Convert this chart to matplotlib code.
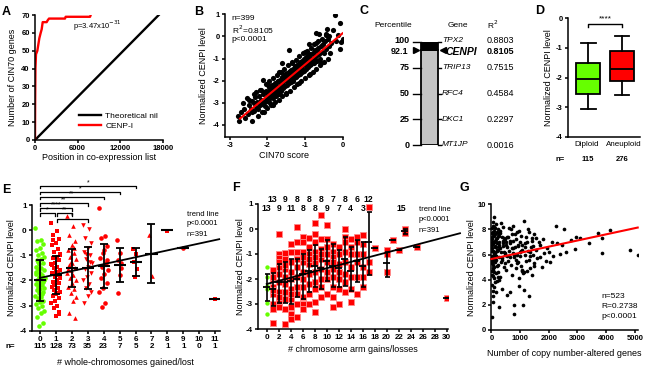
import matplotlib
matplotlib.use("Agg")
import matplotlib.pyplot as plt
import matplotlib.transforms as mtransforms
import numpy as np

W, H = 650, 373
GREEN = "#66ff00"
RED = "#ff0000"

# ---- A: co-expression ranking
a_pos = [0, 20, 60, 140, 330, 610, 800, 940, 1080, 1640, 1780, 1970, 4220, 4310, 7740, 7830]
a_count = [0, 20, 40, 48, 50, 57, 60, 62, 66, 66, 67, 68, 68, 69, 69, 70]
a_nil_pos = [0, 17400]
a_nil_count = [0, 70]

# ---- B: CENPI vs CIN70 score
b_x = [-2.78, -2.75, -2.70, -2.62, -2.60, -2.55, -2.52, -2.48, -2.45, -2.42,
       -2.40, -2.37, -2.35, -2.32, -2.30, -2.28, -2.25, -2.22, -2.20, -2.18,
       -2.16, -2.15, -2.13, -2.10, -2.08, -2.06, -2.05, -2.03, -2.00, -1.98,
       -1.97, -1.95, -1.93, -1.92, -1.90, -1.88, -1.86, -1.85, -1.83, -1.82,
       -1.80, -1.78, -1.77, -1.75, -1.73, -1.72, -1.70, -1.68, -1.67, -1.65,
       -1.63, -1.62, -1.60, -1.58, -1.57, -1.55, -1.53, -1.52, -1.50, -1.48,
       -1.47, -1.45, -1.43, -1.42, -1.40, -1.38, -1.37, -1.35, -1.33, -1.32,
       -1.30, -1.28, -1.27, -1.25, -1.23, -1.22, -1.20, -1.18, -1.17, -1.15,
       -1.13, -1.12, -1.10, -1.08, -1.07, -1.05, -1.03, -1.02, -1.00, -0.98,
       -0.97, -0.95, -0.93, -0.92, -0.90, -0.88, -0.86, -0.85, -0.83, -0.80,
       -0.78, -0.76, -0.73, -0.70, -0.68, -0.65, -0.63, -0.60, -0.58, -0.55,
       -0.52, -0.50, -0.47, -0.45, -0.43, -0.40, -0.37, -0.35, -0.30, -0.25,
       -0.21, -0.18, -0.12, -0.08, -0.06, -0.03, 0.00, -0.71, -0.62, -1.43,
       -2.11, -0.90, -1.60,
       -2.02, -1.94, -1.87, -1.79, -1.74, -1.66, -1.59, -1.54, -1.46, -1.41,
       -1.36, -1.29, -1.24, -1.19, -1.14, -1.09, -1.04, -0.99, -0.94, -0.89,
       -0.84, -0.79, -0.74, -0.69, -1.71, -1.56, -1.39, -1.26, -1.11, -0.96,
       -2.50, -2.40, -2.30, -2.25, -2.20, -2.10, -2.05, -2.00, -1.95, -1.90,
       -1.85, -1.80, -1.75, -1.70, -1.65, -1.60, -1.55, -1.50, -1.45, -1.40,
       -1.35, -1.30, -1.25, -1.20, -1.15, -1.10, -1.05, -1.00, -0.95, -0.90,
       -0.85, -0.80, -0.75, -0.70, -0.65, -0.60, -0.55, -0.50, -0.45, -0.40,
       -2.65, -2.35, -2.15, -1.99, -1.84, -1.69, -1.51, -1.34, -1.16, -1.01,
       -0.87, -0.72, -0.57, -0.42, -0.33]
b_y = [-3.6, -3.8, -3.4, -3.3, -3.7, -2.8, -3.5, -3.1, -3.3, -2.9,
       -3.4, -3.0, -3.35, -2.75, -3.2, -2.95, -3.3, -2.7, -3.1, -2.85,
       -2.4, -3.05, -2.6, -2.95, -2.5, -3.15, -2.8, -2.45, -2.9, -2.6,
       -2.3, -2.75, -3.0, -2.4, -2.65, -2.2, -2.55, -2.8, -2.35, -2.6,
       -2.1, -2.45, -2.7, -2.25, -2.5, -2.0, -2.35, -2.6, -1.95, -2.2,
       -2.45, -1.85, -2.15, -2.35, -1.8, -2.0, -2.25, -1.7, -1.95, -2.2,
       -1.65, -1.9, -2.1, -1.6, -1.8, -2.05, -1.5, -1.75, -2.0, -1.45,
       -1.7, -1.9, -1.35, -1.6, -1.85, -1.3, -1.55, -1.75, -1.25, -1.45,
       -1.7, -1.15, -1.4, -1.6, -1.1, -1.3, -1.55, -1.0, -1.25, -1.45,
       -0.95, -1.15, -1.4, -0.85, -1.1, -1.3, -0.8, -1.05, -1.25, -0.75,
       -1.0, -1.2, -0.6, -0.9, -1.1, -0.5, -0.8, -1.0, -0.45, -0.7,
       -0.35, -0.75, -0.2, 0.1, -0.55, -0.1, -0.45, 0.0, -0.3, 0.3,
       0.97, -0.2, 0.05, 0.6, -0.55, -0.25, -0.1, 0.14, 0.12, -0.62,
       -1.97, -0.35, -1.2,
       -2.55, -2.8, -2.35, -2.2, -2.5, -2.05, -2.3, -1.85, -2.1, -1.7,
       -1.95, -1.5, -1.8, -1.35, -1.65, -1.2, -1.5, -1.05, -1.35, -0.95,
       -1.2, -0.8, -1.05, -0.65, -2.0, -1.75, -1.55, -1.4, -1.25, -1.3,
       -2.85, -3.8, -2.5, -3.6, -2.4, -3.4, -2.15, -3.25, -2.0, -3.1,
       -1.9, -2.95, -1.75, -2.85, -1.6, -2.7, -1.45, -2.55, -1.3, -2.45,
       -1.15, -2.3, -1.05, -2.15, -0.9, -2.0, -0.75, -1.9, -0.65, -1.75,
       -0.5, -1.6, -0.35, -1.45, -0.2, -1.3, -0.1, -1.15, 0.05, -1.0,
       -3.0, -2.6, -3.4, -2.2, -3.1, -1.6, -2.6, -1.2, -2.1, -0.7,
       -1.7, -0.3, -1.2, 0.35, -0.75]
b_fit_x = [-2.73, 0.0]
b_fit_y = [-3.71, 0.14]

# ---- C: percentile ranking of genes
c_genes = ["TPX2", "CENPI", "TRIP13", "RFC4", "DKC1", "MT1JP"]
c_pct = [100, 92.1, 75, 50, 25, 0]
c_r2 = ["0.8803", "0.8105", "0.7515", "0.4584", "0.2297", "0.0016"]
c_ticks = [100, 75, 50, 25, 0]
c_cenpi = 92.1

# ---- D: box plot
d_groups = ["Diploid", "Aneuploid"]
d_n = [115, 276]
d_lo = [-3.05, -2.60]
d_q1 = [-2.55, -2.13]
d_med = [-2.05, -1.70]
d_q3 = [-1.50, -1.12]
d_hi = [-0.85, -0.60]

# ---- E: whole-chromosome gains/losses
e0 = [0.1, -0.4, -0.45, -0.55, -0.7, -0.8, -0.9, -1.0, -1.05, -1.15, -1.2, -1.3, -1.35,
      -1.45, -1.5, -1.55, -1.6, -1.7, -1.75, -1.8, -1.85, -1.9, -1.95, -2.0, -2.05, -2.1,
      -2.15, -2.2, -2.25, -2.3, -2.35, -2.4, -2.45, -2.5, -2.6, -2.65, -2.7, -2.8, -2.85,
      -2.95, -3.0, -3.1, -3.2, -3.3, -3.45, -3.7, -3.8, -1.65, -2.55, -1.25, -2.0, -2.2]
e1 = [0.3, -0.05, -0.2, -0.35, -0.5, -0.6, -0.75, -0.85, -0.95, -1.05, -1.1, -1.2, -1.3,
      -1.35, -1.45, -1.5, -1.6, -1.65, -1.7, -1.8, -1.85, -1.9, -2.0, -2.05, -2.1, -2.2,
      -2.25, -2.3, -2.4, -2.45, -2.55, -2.6, -2.7, -2.8, -2.9, -3.0, -3.1, -3.25, -3.4,
      -1.4, -1.75, -2.15, -1.0, -2.5, -0.4, -3.35]
e2 = [0.55, 0.15, -0.2, -0.45, -0.6, -0.8, -0.9, -1.05, -1.15, -1.3, -1.4, -1.5, -1.6,
      -1.7, -1.8, -1.9, -2.0, -2.1, -2.25, -2.35, -2.5, -2.65, -2.8, -3.3, -3.5, -1.25,
      -1.55, -0.7]
e3 = [0.2, 0.05, -0.3, -0.5, -0.7, -0.85, -1.0, -1.15, -1.3, -1.45, -1.55, -1.7, -1.85,
      -2.0, -2.15, -2.3, -2.45, -2.6, -2.9, -1.25, -0.95]
e4 = [0.9, -0.25, -0.3, -0.65, -0.9, -1.1, -1.3, -1.45, -1.6, -1.75, -1.9, -2.1, -2.3,
      -2.45, -2.9, -3.05, -1.2, -0.8]
e5 = [-0.4, -0.9, -1.2, -1.5, -1.8, -2.5, -1.3]
e6 = [-0.75, -0.95, -1.25, -1.55, -1.85]
e7 = [-0.18, -1.82]
e8 = [-0.02]
e9 = [-0.72]
e11 = [-2.75]
e_x = [0, 1, 2, 3, 4, 5, 6, 7, 8, 9, 11]
e_mean = [-2.0, -1.8, -1.51, -1.51, -1.43, -1.4, -1.27, -0.93, 0.0, -0.71, -2.72]
e_sd = [0.8, 0.76, 0.75, 0.82, 0.87, 0.68, 0.55, 1.16, 0.0, 0.0, 0.0]
e_n = [115, 128, 73, 35, 23, 7, 5, 2, 1, 1, 0, 1]
e_pairs = [(0, 6, "*"), (0, 5, "*"), (0, 4, "**"), (0, 3, "**"), (0, 2, "****"),
           (0, 1, "*"), (1, 2, "**"), (1, 3, "*")]
e_trend_x = [0, 11.25]
e_trend_y = [-1.9, -0.36]

# ---- F: chromosome arm gains/losses
f_green = [-1.5, -1.9, -2.27, -2.4, -2.94, -3.38]
f_arm = [1, 2, 3, 4, 5, 6, 7, 8, 9, 10, 11, 12, 13, 14, 15, 16, 17, 18, 20, 21, 22, 23, 25, 30]
f_levels = [
    [-1.65, -2.0, -2.3, -2.6, -3.0, -3.2, -3.75, -2.45, -1.9],
    [-0.2, -1.0, -1.15, -1.5, -1.8, -2.1, -2.5, -2.9, -3.1, -2.7, -1.3],
    [-0.95, -1.2, -1.6, -1.9, -2.2, -2.5, -2.8, -3.2, -3.8, -1.45],
    [-0.6, -0.9, -1.3, -1.7, -2.0, -2.4, -2.8, -3.1, -3.4, -3.6, -2.6],
    [0.1, -0.5, -0.9, -1.2, -1.5, -1.9, -2.3, -2.6, -3.0, -3.5],
    [-0.3, -0.5, -0.9, -1.3, -1.7, -2.0, -2.3, -2.7, -3.0, -3.2, -1.1],
    [-0.35, -0.7, -1.0, -1.4, -1.8, -2.2, -2.6, -3.0, -1.2],
    [0.25, -0.2, -0.5, -0.9, -1.3, -1.7, -2.1, -2.4, -2.9, -3.3, -1.1],
    [0.55, -0.4, -0.8, -1.2, -1.6, -2.0, -2.3, -2.7, -1.0],
    [0.15, -0.4, -0.7, -1.0, -1.3, -1.7, -2.0, -2.6],
    [-0.9, -1.1, -1.3, -1.6, -1.9, -2.3, -3.1, -2.7, -0.6],
    [-0.7, -1.0, -1.4, -1.7, -2.0, -2.4, -3.0],
    [0.0, -0.3, -0.5, -0.9, -1.3, -1.8, -2.1, -2.5],
    [-0.7, -1.0, -1.5, -1.9, -2.4, -2.9, -0.4],
    [-0.3, -0.5, -1.0, -1.3, -1.9, -2.6],
    [-0.25, -0.6, -1.0, -1.5, -1.9, -2.3],
    [0.9, -1.3, -1.7],
    [-0.75],
    [-0.85, -1.0, -1.7],
    [-0.42],
    [-0.85],
    [0.0, -0.15],
    [-0.72],
    [-2.75],
]
f_stat_x = [0, 1, 2, 3, 4, 5, 6, 7, 8, 9, 10, 11, 12, 13, 14, 15, 16, 17, 18, 20, 21, 22, 23, 25, 30]
f_mean = [-2.33, -2.4, -2.13, -2.13, -2.06, -2.0, -1.79, -1.66, -1.46, -1.55, -1.28, -1.46, -1.55,
          -1.19, -1.66, -1.26, -1.46, -0.53, -0.76, -1.37, -0.42, -0.85, -0.08, -0.72, -2.75]
f_lo = [-2.87, -3.08, -2.94, -2.94, -3.0, -2.73, -2.8, -2.53, -2.33, -2.4, -2.06, -2.33, -2.33,
        -2.26, -2.47, -2.13, -2.33, -1.84, -0.76, -1.9, -0.42, -0.85, -0.18, -0.72, -2.75]
f_hi = [-1.8, -1.74, -1.39, -1.32, -1.19, -1.19, -0.99, -0.85, -0.65, -0.79, -0.45, -0.59, -0.85,
        -0.32, -0.72, -0.45, -0.52, 0.69, -0.76, -0.9, -0.42, -0.85, 0.02, -0.72, -2.75]
f_top_x = [1, 3, 5, 7, 9, 11, 13, 15, 17]
f_top_n = [13, 9, 8, 8, 8, 7, 8, 6, 12]
f_bot_x = [0, 2, 4, 6, 8, 10, 12, 14, 16]
f_bot_n = [13, 9, 11, 8, 8, 9, 7, 4, 3]
f_trend_x = [0, 32.2]
f_trend_y = [-2.2, -0.17]

# ---- G: copy number-altered genes
g_x = [5, 10, 15, 20, 25, 30, 35, 40, 45, 50, 55, 60, 65, 70, 75, 80, 85, 90, 95, 100,
       105, 110, 115, 120, 8, 18, 28, 38, 48, 58, 68, 78, 88, 98, 12, 22, 32, 42,
       130, 140, 150, 160, 170, 180, 190, 200, 210, 220, 230, 240, 250, 260, 270, 280,
       290, 300, 320, 340, 360, 380, 400, 420, 440, 460, 480, 500, 150, 175, 205, 235,
       265, 295, 330, 370, 410, 450, 490, 255,
       520, 540, 560, 580, 600, 620, 640, 660, 680, 700, 720, 740, 760, 780, 800, 800,
       820, 840, 860, 880, 900, 920, 940, 960, 980, 1000, 1020, 1040, 1060, 1080, 1100,
       550, 650, 750, 850, 950, 1050,
       1120, 1140, 1150, 1180, 1200, 1220, 1250, 1280, 1300, 1320, 1350, 1380, 1400, 1420,
       1450, 1480, 1500, 1550, 1600, 1650, 1700, 1750, 1800, 1850, 1900, 1950, 2000, 1160,
       1260, 1360, 1460, 1560, 1680,
       2035, 2151, 2267, 2279, 2384, 2535, 2790, 2930, 2965, 3081, 3407, 3720, 3872, 3872,
       4151, 4826, 5100, 2100, 2450, 2600,
       15, 35, 55, 75, 95, 115, 135, 155, 175, 195, 215, 235, 275, 315, 355, 395, 435, 475,
       515, 555, 595, 635, 675, 715, 755, 795, 835, 875, 915, 955, 995, 1035, 1075, 1115,
       1175, 1235, 1295, 1355, 1415, 1475, 25, 45, 65, 85, 105, 125, 145, 165, 185, 225]
g_y = [1.0, 7.2, 5.8, 8.1, 3.6, 6.5, 4.4, 7.8, 5.2, 2.2, 6.9, 4.8, 8.6, 3.1, 6.2, 5.5, 7.5,
       4.1, 9.0, 6.0, 5.0, 7.1, 3.8, 6.6, 4.7, 5.9, 7.4, 2.7, 6.3, 8.3, 4.3, 5.7, 7.0, 3.4,
       6.8, 5.3, 7.7, 4.9,
       6.1, 7.6, 4.5, 8.4, 5.6, 6.9, 3.9, 7.3, 5.1, 6.4, 8.0, 4.6, 1.8, 7.0, 5.8, 6.6, 4.2,
       7.9, 6.2, 5.4, 7.4, 3.3, 6.7, 8.2, 5.0, 6.0, 7.2, 4.8, 7.0, 5.9, 6.3, 7.7, 4.0, 6.5,
       8.5, 5.6, 7.1, 6.2, 5.3, 7.5,
       6.8, 2.8, 7.4, 5.5, 6.3, 8.1, 3.0, 6.9, 5.2, 7.6, 4.4, 6.1, 8.3, 5.8, 1.3, 2.0, 6.6,
       7.2, 4.9, 6.0, 7.8, 5.4, 6.7, 4.1, 7.0, 6.2, 5.1, 7.5, 4.7, 6.4, 2.0, 5.9, 7.1, 6.5,
       5.6, 3.5, 6.8,
       4.6, 8.7, 3.2, 6.9, 5.5, 7.4, 4.7, 6.3, 2.7, 7.8, 5.9, 6.6, 4.4, 7.1, 6.0, 5.3, 7.6,
       6.4, 5.7, 7.0, 6.8, 5.0, 7.2, 6.1, 5.5, 6.5, 6.2, 6.0, 8.0, 4.9, 6.7, 7.3, 5.8,
       5.44, 5.9, 8.28, 6.9, 6.05, 8.04, 7.16, 6.45, 7.37, 7.3, 6.9, 7.75, 7.3, 6.15, 7.96,
       6.37, 5.97, 7.0, 6.8, 6.2,
       6.3, 7.0, 5.6, 7.9, 4.6, 6.7, 8.1, 5.9, 7.2, 6.4, 5.2, 7.5, 6.8, 7.7, 5.7, 6.9, 7.3,
       6.1, 7.0, 6.6, 7.4, 5.8, 8.0, 6.5, 7.1, 6.0, 7.6, 5.3, 6.8, 7.9, 5.9, 6.3, 4.8, 4.5,
       6.6, 7.0, 5.6, 6.2, 7.3, 5.1, 5.5, 6.9, 7.6, 6.1, 8.2, 5.4, 6.6, 3.0, 7.8, 4.2]
g_fit_x = [0, 5100]
g_fit_y = [5.65, 8.15]

plt.rcParams["font.family"] = ["Liberation Sans", "DejaVu Sans"]
plt.rcParams["axes.linewidth"] = 1.1

fig = plt.figure(figsize=(6.5, 3.73), dpi=100)


def add_ax(x0, y0, x1, y1):
    ax = fig.add_axes([x0 / W, 1 - y1 / H, (x1 - x0) / W, (y1 - y0) / H])
    ax.box_px = (x0, y0, x1, y1)
    return ax


def lab(v):
    return f"{v:g}"


def style(ax, xt, yt, size=5.5):
    for s in ("top", "right"):
        ax.spines[s].set_visible(False)
    ax.tick_params(direction="out", length=2.5, width=1.1, pad=1.2)
    if xt is not None:
        ax.set_xticks(xt, [lab(v) for v in xt], fontsize=size, fontweight="bold")
    if yt is not None:
        ax.set_yticks(yt, [lab(v) for v in yt], fontsize=size, fontweight="bold")


def ylabel_at(ax, text, px, size=6.5):
    x0, y0, x1, y1 = ax.box_px
    ax.set_ylabel(text, fontsize=size)
    ax.yaxis.set_label_coords((px - x0) / (x1 - x0), 0.5)


def xlabel_at(ax, text, py, size=6.5):
    x0, y0, x1, y1 = ax.box_px
    ax.set_xlabel(text, fontsize=size)
    ax.xaxis.set_label_coords(0.5, (y1 - py) / (y1 - y0))


def ftext(x, y, s, **kw):
    fig.text(x / W, 1 - y / H, s, **kw)


def spread(n, width):
    k = np.arange(n)
    return ((k * 0.618034) % 1 - 0.5) * 2 * width


# panel letters
for letter, x, y in [("A", 2, 6), ("B", 194, 6), ("C", 360, 5), ("D", 535, 5),
                     ("E", 2, 184), ("F", 232, 182), ("G", 460, 182)]:
    ftext(x, y, letter, fontsize=9, fontweight="bold", va="top")

# ---------------- A
ax = add_ax(35, 15, 163, 140)
ax.plot(a_nil_pos, a_nil_count, color="black", lw=1.7, label="Theoretical nil")
ax.plot(a_pos, a_count, color=RED, lw=1.7, label="CENP-I")
ax.set_xlim(0, 18000)
ax.set_ylim(0, 70)
style(ax, [0, 6000, 12000, 18000], list(range(0, 71, 10)))
ax.text(5400, 64, r"p=3.47x10$^{-31}$", fontsize=5.5, va="center")
ax.legend(loc="lower right", bbox_to_anchor=(1.02, 0.02), frameon=False, fontsize=6,
          handlelength=2.6, handletextpad=0.5, labelspacing=0.3)
ylabel_at(ax, "Number of CIN70 genes", 17)
xlabel_at(ax, "Position in co-expression list", 153)

# ---------------- B
ax = add_ax(225, 14.3, 343.3, 136.7)
ax.scatter(b_x, b_y, s=14, color="black", lw=0, zorder=2)
ax.plot(b_fit_x, b_fit_y, color=RED, lw=1.5, zorder=3)
ax.set_xlim(-3.13, 0.02)
ax.set_ylim(-4.53, 1.0)
style(ax, [-3, -2, -1, 0], [1, 0, -1, -2, -3, -4])
ax.text(-2.95, 0.82, "n=399", fontsize=6, va="center")
ax.text(-2.95, 0.32, "R$^2$=0.8105", fontsize=6, va="center")
ax.text(-2.95, -0.16, "p<0.0001", fontsize=6, va="center")
ylabel_at(ax, "Normalized CENPI level", 208)
xlabel_at(ax, "CIN70 score", 151)

# ---------------- C
ax = add_ax(360, 42, 512, 145)
ax.set_xlim(0, 152)
ax.set_ylim(0, 100)
ax.axis("off")
ax.bar(69.5, c_cenpi, bottom=0, width=17.6, color="#c4c4c4", edgecolor="black", lw=1.3)
ax.bar(69.5, 100 - c_cenpi, bottom=c_cenpi, width=17.6, color="black", edgecolor="black", lw=1.3)
for p in c_ticks:
    ax.plot([53, 60.7], [p, p], color="black", lw=1.0, clip_on=False)
    ax.text(50, p + (1.5 if p == 100 else 0), lab(p), fontsize=6.5, fontweight="bold",
            ha="right", va="center")
ax.text(48.5, c_cenpi - 1.5, lab(c_cenpi), fontsize=6.5, fontweight="bold", ha="right", va="center")
ax.plot([55.5], [c_cenpi], marker=">", color="black", ms=4)
ax.plot([82.5], [c_cenpi], marker="<", color="black", ms=4.5)
for g, p, r in zip(c_genes, c_pct, c_r2):
    if g == "CENPI":
        ax.text(86, p - 1.5, g, fontsize=7.5, fontweight="bold", style="italic", ha="left", va="center")
        ax.text(127, p - 1.5, r, fontsize=6.5, fontweight="bold", ha="left", va="center")
    else:
        ax.plot([78.3, 81], [p, p], color="black", lw=1.0, clip_on=False)
        ax.text(82, p + (1.5 if p == 100 else 0), g, fontsize=6, style="italic", ha="left", va="center")
        ax.text(127, p + (1.5 if p == 100 else 0), r, fontsize=6.5, ha="left", va="center")
ax.text(33, 116.5, "Percentile", fontsize=6, ha="center", va="center")
ax.text(98, 116.5, "Gene", fontsize=6, ha="center", va="center")
ax.text(133, 116.5, "R$^2$", fontsize=6, ha="center", va="center")

# ---------------- D
ax = add_ax(568, 18.3, 640, 136.7)
stats = []
for i in range(2):
    stats.append({"whislo": d_lo[i], "q1": d_q1[i], "med": d_med[i], "q3": d_q3[i],
                  "whishi": d_hi[i], "fliers": []})
bp = ax.bxp(stats, positions=[1, 2], widths=0.68, patch_artist=True, showfliers=False,
            capwidths=0.44,
            boxprops=dict(lw=1.3), medianprops=dict(color="black", lw=1.3),
            whiskerprops=dict(lw=1.3), capprops=dict(lw=1.3))
for patch, c in zip(bp["boxes"], [GREEN, RED]):
    patch.set_facecolor(c)
ax.set_xlim(0.41, 2.53)
ax.set_ylim(-4, 0)
style(ax, None, [0, -1, -2, -3, -4])
ax.set_xticks([0.95, 2.05], d_groups, fontsize=5.8)
ax.tick_params(axis="x", length=0, pad=3)
ax.plot([1, 1, 2, 2], [-0.29, -0.18, -0.18, -0.29], color="black", lw=1.0, clip_on=False)
ax.text(1.5, -0.14, "****", fontsize=6, ha="center", va="bottom")
trans = mtransforms.blended_transform_factory(ax.transData, fig.transFigure)
ftext(555, 159, "n=", fontsize=5.5, fontweight="bold", va="center")
for i, n in enumerate(d_n):
    ax.text(i + 1, 1 - 159 / H, str(n), transform=trans, fontsize=5.5, fontweight="bold",
            ha="center", va="center")
ylabel_at(ax, "Normalized CENPI level", 553)

# ---------------- E
ax = add_ax(31.7, 205, 220, 330.7)
e_groups = [e0, e1, e2, e3, e4, e5, e6, e7, e8, e9, e11]
e_marks = ["o", "s", "^", "v", "o", "o", "s", "^", "s", "o", "s"]
for gx, vals, mk in zip(e_x, e_groups, e_marks):
    w = 0.3 if len(vals) > 10 else 0.15
    col = GREEN if gx == 0 else RED
    xs = gx + spread(len(vals), w) if len(vals) > 1 else [gx]
    ax.scatter(xs, vals, marker=mk, s=11, color=col, lw=0, zorder=2)
ax.errorbar(e_x, e_mean, yerr=e_sd, fmt="none", ecolor="black", elinewidth=1.3,
            capsize=3, capthick=1.3, zorder=4)
ax.hlines(e_mean, np.array(e_x) - 0.38, np.array(e_x) + 0.38, color="black", lw=1.5, zorder=4)
ax.plot(e_trend_x, e_trend_y, color="black", lw=1.3, zorder=3, clip_on=False)
ax.set_xlim(-0.52, 11.3)
ax.set_ylim(-4, 1)
style(ax, list(range(12)), [1, 0, -1, -2, -3, -4], size=5.8)
heights = [1.76, 1.52, 1.32, 1.08, 0.88, 0.68, 0.68, 0.44]
for (g1, g2, star), hy in zip(e_pairs, heights):
    x1 = g1 + (0.08 if g1 == 1 else 0)
    x2 = g2 - (0.08 if g2 == 1 else 0)
    ax.plot([x1, x1, x2, x2], [hy - 0.1, hy, hy, hy - 0.1], color="black", lw=0.9, clip_on=False)
    ax.text((x1 + x2) / 2, hy - 0.02, star, fontsize=5, ha="center", va="bottom")
trans = mtransforms.blended_transform_factory(ax.transData, fig.transFigure)
ftext(5, 346, "n=", fontsize=5.8, fontweight="bold", va="center")
for i, n in enumerate(e_n):
    ax.text(i, 1 - 346 / H, str(n), transform=trans, fontsize=5.8, fontweight="bold",
            ha="center", va="center")
for j, t in enumerate(["trend line", "p<0.0001", "n=391"]):
    ftext(187, 214 + 10 * j, t, fontsize=5.5, va="center")
ylabel_at(ax, "Normalized CENPI level", 16)
xlabel_at(ax, "# whole-chromosomes gained/lost", 358)

# ---------------- F
ax = add_ax(258.3, 204, 448, 329)
ax.scatter([0] * len(f_green), f_green, marker="o", s=10, color=GREEN, lw=0, zorder=2)
for gx, vals in zip(f_arm, f_levels):
    ax.scatter([gx] * len(vals), vals, marker="s", s=13, color=RED,
               edgecolors="#ff8a8a", linewidths=0.6, zorder=2)
f_err = [np.array(f_mean) - np.array(f_lo), np.array(f_hi) - np.array(f_mean)]
ax.errorbar(f_stat_x, f_mean, yerr=f_err, fmt="none", ecolor="black", elinewidth=1.2,
            capsize=1.8, capthick=1.2, zorder=4)
ax.hlines(f_mean, np.array(f_stat_x) - 0.55, np.array(f_stat_x) + 0.55, color="black",
          lw=1.3, zorder=4)
ax.plot(f_trend_x, f_trend_y, color="black", lw=1.3, zorder=3, clip_on=False)
ax.set_xlim(-1.4, 30.2)
ax.set_ylim(-4, 1)
style(ax, list(range(0, 31, 2)), [1, 0, -1, -2, -3, -4], size=5.8)
for x, n in zip(f_top_x, f_top_n):
    ax.text(x, 1.0 - (199.5 - 204) / 25, str(n), fontsize=6.2, fontweight="bold",
            ha="center", va="center", clip_on=False)
for x, n in zip(f_bot_x, f_bot_n):
    ax.text(x, 1.0 - (208.5 - 204) / 25, str(n), fontsize=6.2, fontweight="bold",
            ha="center", va="center", clip_on=False)
ax.text(22.5, 1.0 - (208.5 - 204) / 25, "15", fontsize=6.2, fontweight="bold",
        ha="center", va="center")
for j, t in enumerate(["trend line", "p<0.0001", "n=391"]):
    ftext(419, 209 + 11 * j, t, fontsize=5.5, va="center")
ylabel_at(ax, "Normalized CENPI level", 245)
xlabel_at(ax, "# chromosome arm gains/losses", 345)

# ---------------- G
ax = add_ax(491, 204.3, 638, 330)
ax.scatter(g_x, g_y, s=7, color="black", lw=0, zorder=2)
ax.plot(g_fit_x, g_fit_y, color=RED, lw=1.5, zorder=3, clip_on=False)
ax.set_xlim(-15, 5110)
ax.set_ylim(0, 10)
style(ax, [0, 1000, 2000, 3000, 4000, 5000], [0, 2, 4, 6, 8, 10])
for j, t in enumerate(["n=523", "R=0.2738", "p<0.0001"]):
    ftext(601, 296 + 10.5 * j, t, fontsize=6, va="center")
ylabel_at(ax, "Normalized CENPI level", 476)
xlabel_at(ax, "Number of copy number-altered genes", 349)

fig.savefig("out.png", dpi=100)
